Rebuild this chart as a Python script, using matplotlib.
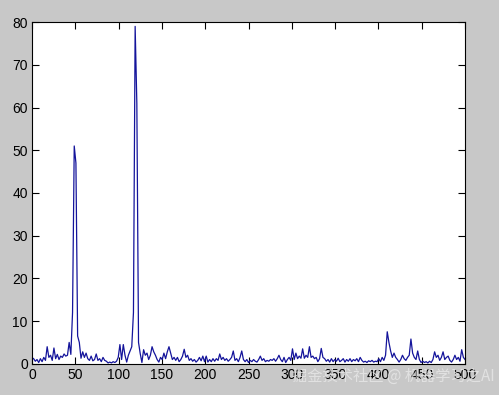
import numpy as np
import matplotlib
matplotlib.use("Agg")
from matplotlib import pyplot as plt

# single-sided amplitude spectrum, 257 bins from 0 to 500 Hz
freq = np.linspace(0, 500, 257)
amp = [
    1.4, 1.2, 0.6, 1.0, 0.3, 1.2, 0.5, 1.5, 0.8, 4.0,
    1.5, 2.0, 0.8, 3.7, 1.2, 2.2, 1.0, 1.8, 1.5, 2.3,
    1.8, 2.0, 5.0, 2.2, 12.0, 51.0, 47.0, 6.5, 5.0, 1.3,
    2.8, 1.5, 2.5, 1.2, 0.8, 1.8, 0.7, 1.0, 2.3, 0.8,
    1.2, 0.5, 1.5, 0.8, 0.6, 0.2, 0.4, 0.2, 0.5, 0.3,
    0.6, 1.5, 4.5, 1.0, 4.5, 2.0, 0.4, 2.0, 3.0, 4.0,
    12.0, 79.0, 61.0, 5.0, 2.4, 0.3, 3.3, 2.0, 2.5, 1.0,
    2.0, 4.0, 2.8, 2.0, 1.0, 0.4, 1.5, 1.0, 2.5, 1.2,
    2.8, 4.0, 2.5, 1.0, 1.5, 0.8, 1.5, 0.5, 1.0, 1.8,
    3.4, 1.5, 2.0, 0.8, 1.2, 0.6, 1.0, 0.4, 0.8, 1.5,
    0.7, 1.8, 0.5, 1.8, 0.4, 1.0, 0.5, 1.2, 0.6, 1.2,
    0.8, 2.3, 1.0, 1.5, 0.8, 1.2, 0.6, 1.0, 1.5, 3.0,
    0.8, 1.2, 0.5, 1.5, 3.0, 1.0, 0.5, 1.0, 0.3, 0.8,
    0.5, 1.0, 0.6, 0.4, 1.0, 1.8, 0.8, 1.2, 0.5, 0.8,
    0.6, 1.0, 0.8, 1.2, 0.6, 1.2, 2.0, 1.0, 0.5, 1.5,
    0.3, 1.0, 1.5, 0.8, 3.5, 1.0, 2.5, 1.2, 1.8, 1.3,
    3.5, 1.3, 2.0, 1.5, 4.0, 1.5, 1.8, 1.2, 1.5, 0.5,
    1.2, 3.6, 1.5, 1.2, 0.6, 1.0, 0.4, 1.2, 0.5, 1.0,
    0.6, 1.3, 0.5, 0.8, 1.2, 0.4, 1.0, 0.6, 1.2, 0.5,
    1.0, 0.7, 1.2, 0.5, 1.5, 0.8, 0.4, 0.6, 0.3, 0.7,
    0.5, 0.8, 0.4, 0.6, 0.5, 1.2, 0.5, 1.5, 0.8, 2.0,
    7.5, 5.0, 3.0, 1.5, 2.5, 1.5, 1.0, 0.4, 1.0, 2.0,
    1.2, 0.8, 1.5, 2.0, 5.8, 2.5, 1.5, 1.0, 3.0, 1.0,
    0.3, 0.6, 0.3, 0.5, 0.2, 0.6, 0.3, 1.0, 2.8, 1.5,
    2.0, 0.8, 1.5, 2.8, 1.0, 1.5, 1.8, 0.8, 0.4, 1.0,
    2.0, 1.0, 1.5, 0.6, 3.3, 1.5, 1.0,
]
xticks = list(range(0, 501, 50))
yticks = list(range(0, 81, 10))

plt.rcParams['font.family'] = ['Liberation Sans', 'DejaVu Sans']

fig = plt.figure(figsize=(4.99, 3.95), dpi=100, facecolor='#c8c8c8')
ax = fig.add_axes([0.064, 0.079, 0.868, 0.865])
ax.plot(freq, amp, color='#14149b', linewidth=0.9)

ax.set_xlim(0, 500)
ax.set_ylim(0, 80)
ax.set_xticks(xticks)
ax.set_yticks(yticks)
ax.tick_params(direction='in', length=5, width=0.8, top=True, right=True,
               labelsize=10, pad=3, colors='black')
for s in ax.spines.values():
    s.set_linewidth(0.8)
    s.set_color('black')

# site watermark
fig.text(0.585, 0.048, '掘金技术社区 @ 机器学习之AI', fontsize=11,
         color='#e6e6e6', alpha=0.85, ha='left', va='center',
         family=['Noto Sans CJK SC', 'DejaVu Sans'])

fig.savefig('out.png', dpi=100, facecolor=fig.get_facecolor())
